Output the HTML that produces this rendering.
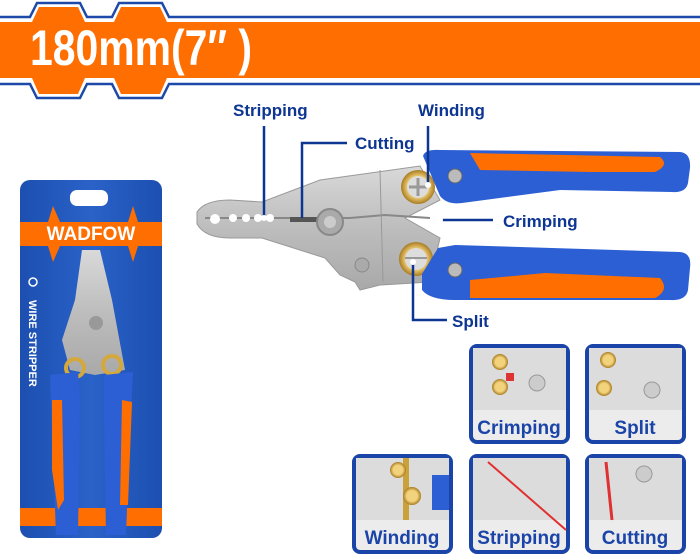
<!DOCTYPE html>
<html><head><meta charset="utf-8"><style>
html,body{margin:0;padding:0;background:#fff;width:700px;height:560px;overflow:hidden}
svg{display:block}
text{font-family:"Liberation Sans",Arial,sans-serif;font-weight:bold}
</style></head><body>
<svg width="700" height="560" viewBox="0 0 700 560" xmlns="http://www.w3.org/2000/svg">
<defs>
<linearGradient id="metal" x1="0" y1="0" x2="0" y2="1"><stop offset="0" stop-color="#d9d9d9"/><stop offset="0.5" stop-color="#bdbdbd"/><stop offset="1" stop-color="#a9a9a9"/></linearGradient>
<linearGradient id="card" x1="0" y1="0" x2="1" y2="0"><stop offset="0" stop-color="#1c4fb0"/><stop offset="0.5" stop-color="#2a62c8"/><stop offset="1" stop-color="#1c4fb0"/></linearGradient>
<radialGradient id="gold"><stop offset="0.6" stop-color="#f2d27a"/><stop offset="1" stop-color="#a87b22"/></radialGradient>
</defs>

<!-- top banner -->
<path d="M0,17 H30 L37,3 H80 L87,17 H112 L119,3 H162 L169,17 H700" fill="none" stroke="#1d4aa8" stroke-width="2.5"/>
<path d="M0,84 H30 L37,98 H80 L87,84 H112 L119,98 H162 L169,84 H700" fill="none" stroke="#1d4aa8" stroke-width="2.5"/>
<path d="M0,22 H32 L39,7 H78 L85,22 H114 L121,7 H160 L167,22 H700 V78 H167 L160,94 H121 L114,78 H85 L78,94 H39 L32,78 H0 Z" fill="#ff6e00"/>
<text x="30" y="65" font-size="50" fill="#fff" textLength="222" lengthAdjust="spacingAndGlyphs">180mm(7″ )</text>

<!-- package card -->
<rect x="20" y="180" width="142" height="358" rx="10" fill="url(#card)"/>
<rect x="70" y="190" width="38" height="16" rx="7" fill="#fff"/>
<path d="M20,222 H48 L53,206 L60,222 H128 L133,206 L138,222 H162 V246 H138 L133,262 L128,246 H60 L53,262 L48,246 H20 Z" fill="#ff6e00"/>
<text x="91" y="240" font-size="19" fill="#fff" text-anchor="middle">WADFOW</text>
<rect x="20" y="508" width="142" height="18" fill="#ff6e00"/>
<text transform="translate(29,300) rotate(90)" font-size="11" fill="#fff">WIRE STRIPPER</text>
<circle cx="33" cy="282" r="4" fill="none" stroke="#fff" stroke-width="1.5"/>
<path d="M82,250 L100,250 L112,300 L125,370 L95,375 L70,370 L62,340 L75,300 Z" fill="url(#metal)"/>
<circle cx="96" cy="323" r="7" fill="#999"/>
<circle cx="75" cy="368" r="9" fill="none" stroke="#d4a83c" stroke-width="4"/>
<circle cx="112" cy="365" r="9" fill="none" stroke="#d4a83c" stroke-width="4"/>
<path d="M50,375 L78,372 L80,400 L78,535 L56,535 L52,430 Z" fill="#2c5fd4"/>
<path d="M52,400 L62,400 L64,500 L58,510 L52,470 Z" fill="#ff6e00"/>
<path d="M104,375 L133,372 L130,430 L126,535 L106,535 L104,420 Z" fill="#2c5fd4"/>
<path d="M122,400 L132,402 L128,505 L120,505 Z" fill="#ff6e00"/>

<!-- main pliers -->
<path d="M197,212 Q205,200 230,200 L262,202 L320,180 L420,166 L440,200 L405,218 L440,238 L430,282 L380,285 L360,290 L355,282 L340,275 L325,258 L262,238 L230,238 Q205,238 197,224 Z" fill="url(#metal)" stroke="#999" stroke-width="1"/>
<path d="M205,218 H350 L385,215 L430,218" stroke="#888" stroke-width="2" fill="none"/>
<g fill="#fff"><circle cx="215" cy="219" r="5"/><circle cx="233" cy="218" r="4"/><circle cx="246" cy="218" r="4"/><circle cx="258" cy="218" r="4"/><circle cx="270" cy="218" r="4"/></g>
<rect x="290" y="217" width="27" height="5" fill="#555"/>
<circle cx="330" cy="222" r="13" fill="#aaa" stroke="#888" stroke-width="2"/>
<circle cx="330" cy="222" r="6" fill="#ccc"/>
<circle cx="362" cy="265" r="7" fill="#aaa" stroke="#888"/>
<line x1="380" y1="170" x2="383" y2="282" stroke="#999"/>
<circle cx="418" cy="187" r="17" fill="url(#gold)"/><circle cx="418" cy="187" r="11" fill="#ddd"/>
<path d="M418,178 V196 M409,187 H427" stroke="#999" stroke-width="3"/>
<circle cx="416" cy="259" r="17" fill="url(#gold)"/><circle cx="416" cy="259" r="11" fill="#ddd"/>
<path d="M405,258 H427" stroke="#999" stroke-width="2"/>
<path d="M423,156 Q425,149 440,150 L680,152 Q691,153 690,168 L688,183 Q686,193 672,192 L560,190 L462,203 Q447,205 440,196 Z" fill="#2c5fd4"/>
<path d="M470,153 L660,157 Q670,165 655,172 L590,172 L480,170 Z" fill="#ff6e00"/>
<circle cx="455" cy="176" r="7" fill="#bbb" stroke="#666"/>
<path d="M422,274 L438,248 L455,245 L680,252 Q692,253 690,268 L688,290 Q686,301 670,300 L455,300 Q430,300 422,290 Z" fill="#2c5fd4"/>
<path d="M470,280 L545,273 L660,278 Q670,290 655,298 L470,298 Z" fill="#ff6e00"/>
<circle cx="455" cy="270" r="7" fill="#bbb" stroke="#666"/>

<!-- callouts -->
<g stroke="#0d3592" stroke-width="2.5" fill="none">
<path d="M264,126 V218"/><path d="M347,143 H302 V218"/><path d="M428,126 V185"/><path d="M493,220 H440"/><path d="M413,262 V320 H447"/>
</g>
<g fill="#fff"><circle cx="264" cy="218" r="3"/><circle cx="428" cy="185" r="3"/><circle cx="440" cy="220" r="3"/><circle cx="413" cy="262" r="3"/></g>
<g fill="#0d3592" font-size="17">
<text x="233" y="116">Stripping</text>
<text x="355" y="149">Cutting</text>
<text x="418" y="116">Winding</text>
<text x="503" y="227">Crimping</text>
<text x="452" y="327">Split</text>
</g>

<!-- feature boxes -->
<g>
<rect x="471" y="346" width="97" height="96" rx="6" fill="#ececec" stroke="#1a44a8" stroke-width="4"/>
<rect x="587" y="346" width="97" height="96" rx="6" fill="#ececec" stroke="#1a44a8" stroke-width="4"/>
<rect x="354" y="456" width="97" height="96" rx="6" fill="#ececec" stroke="#1a44a8" stroke-width="4"/>
<rect x="471" y="456" width="97" height="96" rx="6" fill="#ececec" stroke="#1a44a8" stroke-width="4"/>
<rect x="587" y="456" width="97" height="96" rx="6" fill="#ececec" stroke="#1a44a8" stroke-width="4"/>
</g>
<g>
<rect x="473" y="348" width="93" height="62" fill="#dcdcdc"/>
<circle cx="500" cy="362" r="8" fill="url(#gold)"/><circle cx="500" cy="387" r="8" fill="url(#gold)"/><rect x="506" y="373" width="8" height="8" fill="#d33"/><circle cx="537" cy="383" r="8" fill="#ccc" stroke="#999"/>
<rect x="589" y="348" width="93" height="62" fill="#dcdcdc"/>
<circle cx="608" cy="360" r="8" fill="url(#gold)"/><circle cx="604" cy="388" r="8" fill="url(#gold)"/><circle cx="652" cy="390" r="8" fill="#ccc" stroke="#999"/>
<rect x="356" y="458" width="93" height="62" fill="#dcdcdc"/>
<rect x="403" y="458" width="6" height="62" fill="#c9a23a"/><circle cx="398" cy="470" r="8" fill="url(#gold)"/><circle cx="412" cy="496" r="9" fill="url(#gold)"/><rect x="432" y="475" width="17" height="35" fill="#2c5fd4"/>
<rect x="473" y="458" width="93" height="62" fill="#dcdcdc"/>
<path d="M488,462 L566,530" stroke="#e03030" stroke-width="2"/>
<rect x="589" y="458" width="93" height="62" fill="#dcdcdc"/>
<path d="M606,462 L612,520" stroke="#e03030" stroke-width="3"/><circle cx="644" cy="474" r="8" fill="#ccc" stroke="#999"/>
</g>
<g fill="#1a44a8" font-size="19" text-anchor="middle">
<text x="519" y="434">Crimping</text>
<text x="635" y="434">Split</text>
<text x="402" y="544">Winding</text>
<text x="519" y="544">Stripping</text>
<text x="635" y="544">Cutting</text>
</g>
</svg>
</body></html>
